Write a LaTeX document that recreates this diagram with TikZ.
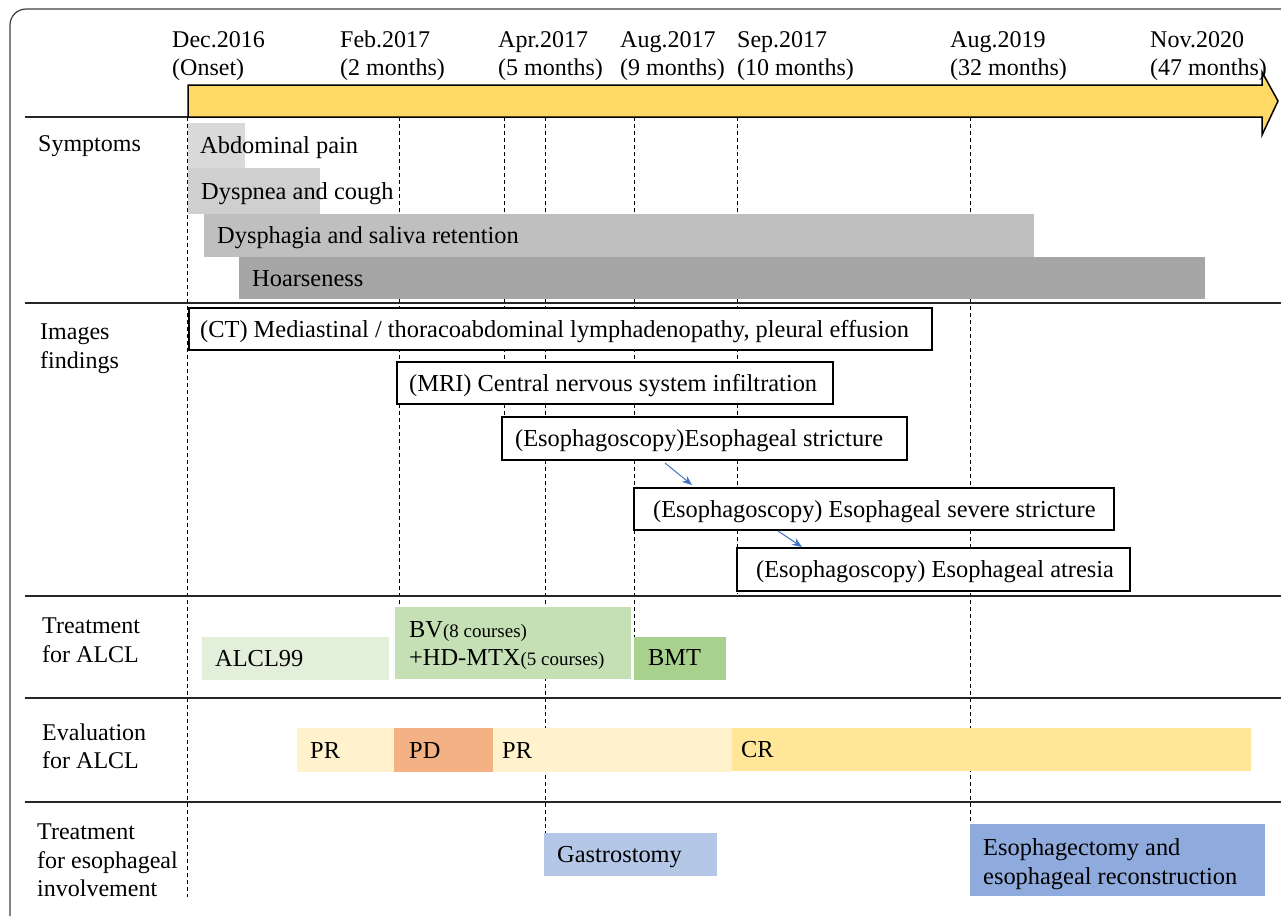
\documentclass[tikz,border=0pt]{standalone}
\usepackage{fontspec}
\setmainfont{Liberation Serif}
\usetikzlibrary{arrows.meta,calc}
\definecolor{arrowyellow}{HTML}{FFD966}
\definecolor{linkblue}{HTML}{4472C4}
\definecolor{gA}{HTML}{D9D9D9}
\definecolor{gB}{HTML}{CFCFCF}
\definecolor{gC}{HTML}{BFBFBF}
\definecolor{gD}{HTML}{A6A6A6}
\definecolor{grA}{HTML}{E2EFDA}
\definecolor{grB}{HTML}{C5E0B4}
\definecolor{grC}{HTML}{A9D18E}
\definecolor{yA}{HTML}{FFF2CC}
\definecolor{yB}{HTML}{FFE699}
\definecolor{orA}{HTML}{F4B183}
\definecolor{bA}{HTML}{B4C7E7}
\definecolor{bB}{HTML}{8FAADC}
\tikzset{
  bar/.style={rectangle, inner sep=0pt, outer sep=0pt, anchor=north west, draw=none},
  framebox/.style={bar, draw=black, fill=white, line width=1.1pt},
  txt/.style={inner sep=0pt, anchor=base west, font=\fontsize{24.4}{28.5}\selectfont},
  rowtxt/.style={inner sep=0pt, anchor=base west},
  mltxt/.style={inner sep=0pt, anchor=north west, align=left},
  sepline/.style={line width=1.6pt, draw=black!85},
  vdash/.style={dash pattern=on 4pt off 3pt, line width=0.9pt},
  linkarrow/.style={-{Stealth[length=10pt,width=8pt]}, draw=linkblue, line width=1pt}
}
\newcommand{\smallc}[1]{{\fontsize{19}{23}\selectfont #1}}
\begin{document}
\begin{tikzpicture}[x=1pt,y=-1pt,font=\fontsize{24}{28}\selectfont]
\useasboundingbox (0,0) rectangle (1281,916);
% outer frame
\draw[line width=1.2pt, draw=black!75, rounded corners=16pt] (10,916) -- (10,9) -- (1281,9);
% dashed grid lines
\draw[vdash] (187,117) -- (187,897);
\draw[vdash] (399,117) -- (399,607);
\draw[vdash] (504,117) -- (504,417);
\draw[vdash] (545,117) -- (545,833);
\draw[vdash] (634,117) -- (634,637);
\draw[vdash] (737,117) -- (737,594);
\draw[vdash] (970,117) -- (970,824);
% separators
\draw[sepline] (25,117) -- (188,117);
\draw[sepline] (25,303) -- (1281,303);
\draw[sepline] (25,596) -- (1281,596);
\draw[sepline] (25,698) -- (1281,698);
\draw[sepline] (25,802) -- (1281,802);
% timeline arrow
\draw[fill=arrowyellow, line width=1.5pt, line join=miter] (188,117) -- (188,85) -- (1262,85) -- (1262,72) -- (1278,101) -- (1262,135) -- (1262,117) -- cycle;
% dates
\node[mltxt] (d1) at (172,31) {Dec.2016\\(Onset)};
\node[mltxt] (d2) at (340,31) {Feb.2017\\(2 months)};
\node[mltxt] (d3) at (498,31) {Apr.2017\\(5 months)};
\node[mltxt] (d4) at (620,31) {Aug.2017\\(9 months)};
\node[mltxt] (d5) at (737,31) {Sep.2017\\(10 months)};
\node[mltxt] (d6) at (950,31) {Aug.2019\\(32 months)};
\node[mltxt] (d7) at (1150,31) {Nov.2020\\(47 months)};
% row labels
\node[rowtxt] (l1) at (38,151) {Symptoms};
\node[mltxt, font=\fontsize{24}{28.5}\selectfont] (l2) at (40,324) {Images\\findings};
\node[mltxt, font=\fontsize{24}{28.5}\selectfont] (l3) at (42,618) {Treatment\\for ALCL};
\node[mltxt, font=\fontsize{24}{28.5}\selectfont] (l4) at (42,723.5) {Evaluation\\for ALCL};
\node[mltxt, font=\fontsize{24}{28.5}\selectfont] (l5) at (37,824) {Treatment\\for esophageal\\involvement};
% symptoms
\node[bar, fill=gA, minimum width=57pt, minimum height=45pt] (abd) at (188,123) {};
\node[bar, fill=gB, minimum width=132pt, minimum height=46pt] (dys) at (188,168) {};
\node[bar, fill=gC, minimum width=830pt, minimum height=43pt] (dph) at (204,214) {};
\node[bar, fill=gD, minimum width=966pt, minimum height=42pt] (hoa) at (239,257) {};
\node[txt] (tabd) at ($(abd.west)+(12,8)$) {Abdominal pain};
\node[txt] (tdys) at ($(dys.west)+(13,8)$) {Dyspnea and cough};
\node[txt] (tdph) at ($(dph.west)+(13,8)$) {Dysphagia and saliva retention};
\node[txt] (thoa) at ($(hoa.west)+(13,8)$) {Hoarseness};
% image findings
\node[framebox, minimum width=743pt, minimum height=42pt] (ct) at (189,308) {};
\node[framebox, minimum width=436pt, minimum height=42pt] (mri) at (397,362) {};
\node[framebox, minimum width=405pt, minimum height=43pt] (es1) at (502,417) {};
\node[framebox, minimum width=480pt, minimum height=42pt] (es2) at (634,488) {};
\node[framebox, minimum width=393pt, minimum height=43pt] (es3) at (737,548) {};
\node[txt] (tct) at ($(ct.west)+(11,8)$) {(CT) Mediastinal / thoracoabdominal lymphadenopathy, pleural effusion};
\node[txt] (tmri) at ($(mri.west)+(12,8)$) {(MRI) Central nervous system infiltration};
\node[txt] (tes1) at ($(es1.west)+(13,8)$) {(Esophagoscopy)Esophageal stricture};
\node[txt] (tes2) at ($(es2.west)+(19,8)$) {(Esophagoscopy) Esophageal severe stricture};
\node[txt] (tes3) at ($(es3.west)+(19,8)$) {(Esophagoscopy) Esophageal atresia};
\draw[linkarrow] ($(es1.south west)+(163,3)$) -- ($(es2.north west)+(58,-3)$);
\draw[linkarrow] ($(es2.south west)+(144,1)$) -- ($(es3.north west)+(65,-1)$);
% treatment for ALCL
\node[bar, fill=grA, minimum width=187pt, minimum height=43pt] (alcl) at (202,637) {};
\node[bar, fill=grB, minimum width=236pt, minimum height=72pt] (bv) at (395,607) {};
\node[bar, fill=grC, minimum width=92pt, minimum height=43pt] (bmt) at (634,637) {};
\node[txt] (talcl) at ($(alcl.west)+(13,8)$) {ALCL99};
\node[mltxt, font=\fontsize{24.4}{28}\selectfont] (tbv) at ($(bv.north west)+(14,14)$) {BV\smallc{(8 courses)}\\+HD-MTX\smallc{(5 courses)}};
\node[txt] (tbmt) at ($(bmt.west)+(14,7)$) {BMT};
% evaluation
\node[bar, fill=yA, minimum width=97pt, minimum height=44pt] (pr1) at (297,728) {};
\node[bar, fill=orA, minimum width=99pt, minimum height=44pt] (pd) at (394,728) {};
\node[bar, fill=yA, minimum width=239pt, minimum height=44pt] (pr2) at (493,728) {};
\node[bar, fill=yB, minimum width=519pt, minimum height=43pt] (cr) at (732,728) {};
\node[txt] (tpr1) at ($(pr1.west)+(13,8)$) {PR};
\node[txt] (tpd) at ($(pd.west)+(15,8)$) {PD};
\node[txt] (tpr2) at ($(pr2.west)+(9,8)$) {PR};
\node[txt] (tcr) at ($(cr.west)+(9,8)$) {CR};
% esophageal treatment
\node[bar, fill=bA, minimum width=173pt, minimum height=43pt] (gas) at (544,833) {};
\node[bar, fill=bB, minimum width=295pt, minimum height=72pt] (eso) at (970,824) {};
\node[txt] (tgas) at ($(gas.west)+(13,8)$) {Gastrostomy};
\node[mltxt, font=\fontsize{24.4}{29}\selectfont] (teso) at ($(eso.north west)+(13,14)$) {Esophagectomy and\\esophageal reconstruction};
\end{tikzpicture}
\end{document}
